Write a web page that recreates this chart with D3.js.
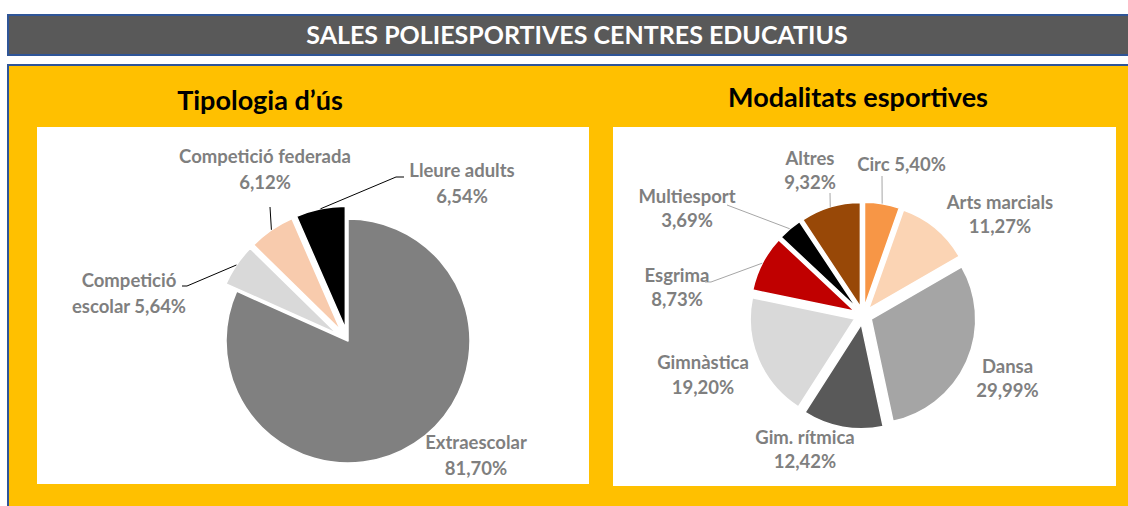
<!DOCTYPE html>
<html>
<head>
<meta charset="utf-8">
<script src="https://cdn.jsdelivr.net/npm/d3@7"></script>
<style>
  body { margin: 0; background: #fff; }
  svg { display: block; font-family: Lato, 'Open Sans', sans-serif; font-weight: bold; }
</style>
</head>
<body>
<svg id="chart" width="1128" height="506"></svg>
<script>
const mainTitle = 'SALES POLIESPORTIVES CENTRES EDUCATIUS'

const tipusTitle = 'Tipologia d’ús'
const tipusLabels = ['Extraescolar', 'Competició escolar', 'Competició federada', 'Lleure adults']
const tipusValues = [81.70, 5.64, 6.12, 6.54]
const tipusColors = ['#808080', '#D9D9D9', '#F8CBAD', '#000000']

const modTitle = 'Modalitats esportives'
const modLabels = ['Circ', 'Arts marcials', 'Dansa', 'Gim. rítmica', 'Gimnàstica', 'Esgrima', 'Multiesport', 'Altres']
const modValues = [5.40, 11.27, 29.99, 12.42, 19.20, 8.73, 3.69, 9.32]
const modColors = ['#F79646', '#FBD4B4', '#A5A5A5', '#595959', '#D9D9D9', '#C00000', '#000000', '#984807']

const pct = d3.formatLocale({ decimal: ',', thousands: '.', grouping: [3], currency: ['', '€'] }).format('.2f')

const svg = d3.select('#chart')

// banner + background panels
svg.append('rect').attr('x', 8).attr('y', 15).attr('width', 1130).attr('height', 40)
  .attr('fill', '#595959').attr('stroke', '#2F5597').attr('stroke-width', 2)
svg.append('text').attr('x', 577).attr('y', 44).attr('text-anchor', 'middle')
  .attr('fill', '#fff').attr('font-size', 25).text(mainTitle)

svg.append('rect').attr('x', 8).attr('y', 65).attr('width', 1130).attr('height', 460)
  .attr('fill', '#FFC000').attr('stroke', '#2F5597').attr('stroke-width', 2)

svg.append('rect').attr('x', 37).attr('y', 127).attr('width', 552).attr('height', 357).attr('fill', '#fff')
svg.append('rect').attr('x', 613).attr('y', 127).attr('width', 503).attr('height', 359).attr('fill', '#fff')

svg.append('text').attr('x', 260).attr('y', 110).attr('text-anchor', 'middle')
  .attr('font-size', 27).attr('fill', '#000').text(tipusTitle)
svg.append('text').attr('x', 858).attr('y', 107).attr('text-anchor', 'middle')
  .attr('font-size', 27).attr('fill', '#000').text(modTitle)

function drawPie (opt) {
  const g = svg.append('g').attr('transform', `translate(${opt.cx},${opt.cy})`)
  const arcs = d3.pie().sort(null).value(d => d)(opt.values)
  const arc = d3.arc().innerRadius(0).outerRadius(opt.r)
  const mid = d => (d.startAngle + d.endAngle) / 2
  const shift = (d, i) => {
    const e = opt.explode[i]
    return [Math.sin(mid(d)) * e, -Math.cos(mid(d)) * e]
  }

  g.selectAll('path').data(arcs).enter().append('path')
    .attr('transform', (d, i) => `translate(${shift(d, i)})`)
    .attr('d', arc)
    .attr('fill', (d, i) => opt.colors[i])
    .attr('stroke', '#fff')
    .attr('stroke-width', 1.5)
    .attr('stroke-linejoin', 'round')

  // leader lines: from the slice edge on its bisector to the label
  arcs.forEach((d, i) => {
    if (!opt.leaders[i]) return
    const s = shift(d, i)
    const p0 = [s[0] + Math.sin(mid(d)) * opt.r, s[1] - Math.cos(mid(d)) * opt.r]
    g.append('path')
      .attr('d', d3.line()([p0, ...opt.leaders[i]]))
      .attr('fill', 'none')
      .attr('stroke', opt.leaderColor)
      .attr('stroke-width', 1)
  })

  // labels
  arcs.forEach((d, i) => {
    const words = (opt.labels[i] + ' ' + pct(opt.values[i]) + '%').split(' ')
    const lines = [words.slice(0, opt.wraps[i]).join(' '), words.slice(opt.wraps[i]).join(' ')].filter(t => t)
    const [lx, ly] = opt.labelPos[i]
    const t = g.append('text')
      .attr('text-anchor', 'middle')
      .attr('font-size', opt.fontSize)
      .attr('fill', '#7F7F7F')
    lines.forEach((line, k) => {
      t.append('tspan')
        .attr('x', lx)
        .attr('y', ly + (k - (lines.length - 1) / 2) * opt.lineGap + opt.fontSize * 0.35)
        .text(line)
    })
  })
}

drawPie({
  cx: 348,
  cy: 341,
  r: 122,
  values: tipusValues,
  labels: tipusLabels,
  colors: tipusColors,
  explode: [0, 13, 13, 13],
  labelPos: [[128, 115], [-219, -47], [-83, -171], [114, -157]],
  wraps: [1, 1, 2, 2],
  leaders: [null, [[-161, -55], [-166, -55]], [[-78, -134]], [[48, -164], [56, -164]]],
  leaderColor: '#000',
  fontSize: 18.5,
  lineGap: 26
})

drawPie({
  cx: 863,
  cy: 315.5,
  r: 104.5,
  values: modValues,
  labels: modLabels,
  colors: modColors,
  explode: [9, 9, 9, 9, 9, 9, 9, 9],
  labelPos: [[38.5, -150.5], [137, -101], [144.5, 63], [-58, 134], [-160, 59.5], [-186, -28], [-176, -107], [-53, -145]],
  wraps: [2, 2, 1, 2, 1, 1, 1, 1],
  leaders: [[[19, -139.5]], null, null, null, null, [[-152, -33.5], [-158, -33.5]], [[-136, -110.5]], [[-33, -122.5]]],
  leaderColor: '#A6A6A6',
  fontSize: 18.5,
  lineGap: 24.5
})
</script>
</body>
</html>
